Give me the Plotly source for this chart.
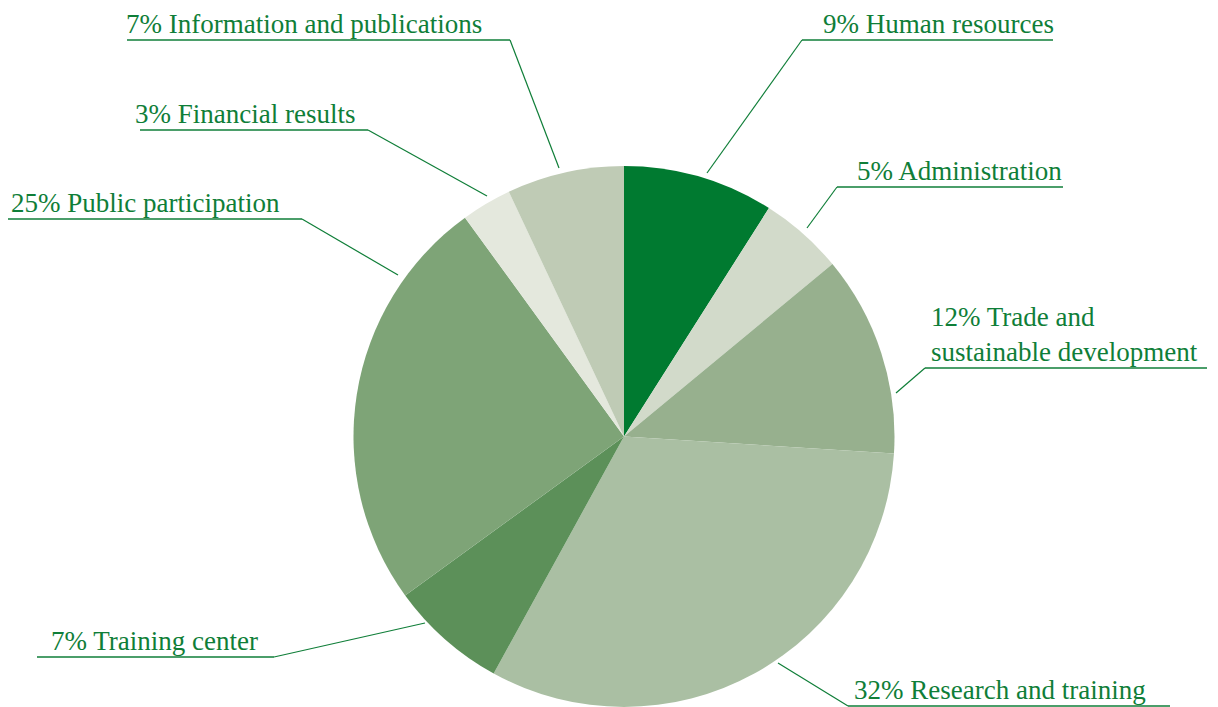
import plotly.graph_objects as go

categories = ["Human resources", "Administration", "Trade and<br>sustainable development",
              "Research and training", "Training center", "Public participation",
              "Financial results", "Information and publications"]
values = [9, 5, 12, 32, 7, 25, 3, 7]
colors = ["#007A30", "#D2DACA", "#97B08E", "#AABFA3", "#5C9059", "#7EA477", "#E4E8DD", "#BFCBB5"]

OFF = 8  # page body margin
W, H = 1218 - OFF, 707 - OFF
GREEN = "#0F7E38"
FONT = "Liberation Serif"

# label layout in reference pixels
label_layout = [
    dict(tx=1055, anchor="right", uy=40, ux0=802, ux1=1053, ex=707, ey=173, elbow=802),
    dict(tx=1063, anchor="right", uy=187, ux0=837, ux1=1063, ex=807, ey=228, elbow=837),
    dict(tx=930, anchor="left", uy=368, ux0=925, ux1=1207, ex=896, ey=393, elbow=925),
    dict(tx=853, anchor="left", uy=706, ux0=848, ux1=1170, ex=778, ey=663, elbow=848),
    dict(tx=50, anchor="left", uy=657, ux0=37, ux1=274, ex=425, ey=623, elbow=274),
    dict(tx=10, anchor="left", uy=219, ux0=8, ux1=302, ex=398, ey=275, elbow=302),
    dict(tx=134, anchor="left", uy=130, ux0=140, ux1=368, ex=487, ey=196, elbow=368),
    dict(tx=125, anchor="left", uy=40, ux0=127, ux1=510, ex=559, ey=168, elbow=510),
]

def px(x):
    return (x - OFF) / W

def py(y):
    return 1 - (y - OFF) / H

fig = go.Figure(go.Pie(
    labels=categories, values=values, sort=False, direction="clockwise", rotation=0,
    marker=dict(colors=colors, line=dict(width=0)),
    textinfo="none", hoverinfo="label+percent", showlegend=False,
    domain=dict(x=[px(624 - 271), px(624 + 271)], y=[0, py(166)]),
))

shapes = []
annotations = []
for cat, v, L in zip(categories, values, label_layout):
    shapes.append(dict(type="line", xref="paper", yref="paper",
                       x0=px(L["ux0"]), x1=px(L["ux1"]), y0=py(L["uy"]), y1=py(L["uy"]),
                       line=dict(color=GREEN, width=1.5)))
    shapes.append(dict(type="line", xref="paper", yref="paper",
                       x0=px(L["elbow"]), y0=py(L["uy"]), x1=px(L["ex"]), y1=py(L["ey"]),
                       line=dict(color=GREEN, width=1.2)))
    annotations.append(dict(text=f"{v}% {cat}", xref="paper", yref="paper",
                            x=px(L["tx"]), y=py(L["uy"]), xanchor=L["anchor"], yanchor="bottom",
                            showarrow=False, align="left", borderpad=0,
                            font=dict(family=FONT, size=27, color=GREEN)))

fig.update_layout(width=W, height=H, margin=dict(l=0, r=0, t=0, b=0),
                  paper_bgcolor="white", plot_bgcolor="white",
                  shapes=shapes, annotations=annotations)
fig.write_html("out.html")
